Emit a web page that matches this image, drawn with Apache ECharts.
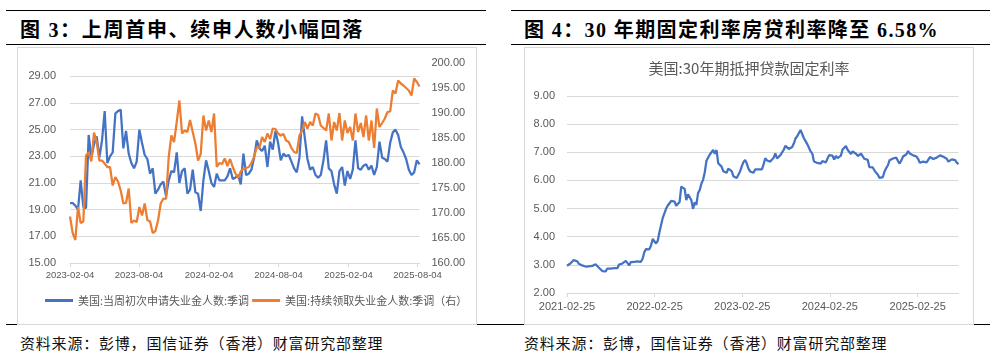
<!DOCTYPE html>
<html><head><meta charset="utf-8">
<script src="https://cdn.jsdelivr.net/npm/echarts@6/dist/echarts.min.js"></script>
<style>
html,body{margin:0;padding:0;background:#fff;width:996px;height:356px;overflow:hidden;position:relative;}
.rule{position:absolute;height:0;border-top:1.4px solid #000;}
.ttl{position:absolute;font-family:"Liberation Serif","Noto Sans CJK SC",serif;font-weight:bold;font-size:20px;letter-spacing:1.7px;color:#000;white-space:nowrap;line-height:20px;}
.src{position:absolute;font-family:"Noto Sans CJK SC",sans-serif;font-size:15px;letter-spacing:0.8px;color:#111;white-space:nowrap;line-height:16px;}
.box{position:absolute;border:1px solid #d9d9d9;box-sizing:border-box;background:#fff;}
.chart{position:absolute;}
</style></head>
<body>
<div class="rule" style="left:6px;top:10px;width:480px;"></div>
<div class="ttl" style="left:20px;top:20px;">图 3：上周首申、续申人数小幅回落</div>
<div class="rule" style="left:6px;top:44px;width:480px;"></div>
<div class="rule" style="left:6px;top:324px;width:492px;"></div>
<div class="box" style="left:17px;top:47px;width:460px;height:278px;"></div>
<div id="c1" class="chart" style="left:17px;top:47px;width:460px;height:278px;"></div>
<div class="src" style="left:20px;top:335px;">资料来源：彭博，国信证券（香港）财富研究部整理</div>

<div class="rule" style="left:511px;top:10px;width:479px;"></div>
<div class="ttl" style="left:524px;top:20px;letter-spacing:1.4px;">图 4：30 年期固定利率房贷利率降至 6.58%</div>
<div class="rule" style="left:511px;top:44px;width:479px;"></div>
<div class="rule" style="left:498px;top:324px;width:492px;"></div>
<div class="box" style="left:524px;top:47px;width:450px;height:278px;"></div>
<div id="c2" class="chart" style="left:524px;top:47px;width:450px;height:278px;"></div>
<div class="src" style="left:524px;top:335px;">资料来源：彭博，国信证券（香港）财富研究部整理</div>

<script>
// ---------- Chart 3 data (weekly, starting 2023-02-04), unit: 10k persons ----------
const claimsStart = '2023-02-04';
const claimsEnd = '2025-08-09';
const initialClaims = [
19.5,19.5,19.3,19.0,21.2,19.2,19.1,24.6,22.9,23.9,
24.5,22.9,24.2,26.4,22.5,23.0,23.3,26.2,26.4,26.5,
23.6,24.9,23.2,22.5,22.1,22.6,25.0,24.0,23.1,22.8,
21.7,22.1,20.2,20.5,20.9,21.1,20.0,21.2,21.9,21.8,
23.3,21.0,21.9,22.1,20.2,20.5,22.0,20.3,20.2,18.9,
21.2,22.7,21.9,21.0,20.7,21.7,21.2,21.2,21.2,21.5,
22.1,21.3,21.4,21.6,20.9,23.2,21.6,21.7,22.0,22.9,
24.2,23.6,23.4,23.8,22.2,24.1,23.5,24.9,24.0,22.7,
23.2,23.0,23.1,22.6,22.1,21.8,22.9,26.0,24.4,22.8,
22.0,22.2,21.6,21.4,21.6,22.7,24.2,22.1,21.9,20.9,
20.2,21.9,22.2,20.8,21.9,21.3,22.0,24.2,22.1,22.0,
22.3,22.4,22.0,22.3,21.6,22.2,24.1,22.9,22.8,22.6,
24.0,24.8,25.0,24.6,23.7,23.3,22.8,22.0,21.6,21.8,
22.7,22.4];
const continuingClaims = [
169.3,166.0,164.6,171.2,168.0,168.3,181.5,182.1,180.3,186.1,
184.2,180.5,180.5,179.9,179.2,179.2,175.5,177.2,176.3,174.5,
171.9,172.0,174.9,168.0,168.5,168.2,171.2,169.5,171.9,168.6,
168.3,166.0,166.4,168.5,171.9,172.9,172.8,181.2,185.5,184.2,
188.2,192.5,185.9,186.5,186.2,188.6,186.2,183.9,180.5,181.8,
189.5,186.5,188.5,186.2,189.9,179.2,180.0,179.8,180.9,179.4,
180.8,179.2,177.9,177.0,178.3,178.9,179.0,179.2,180.0,181.2,
183.2,183.0,185.2,184.2,185.9,184.8,186.9,186.8,185.9,185.5,
185.8,184.5,184.2,183.0,182.2,182.0,185.5,186.5,188.2,186.9,
188.2,187.5,189.9,189.6,187.5,187.0,186.5,189.9,184.5,188.2,
186.5,190.0,184.5,188.5,186.0,187.2,184.5,189.9,186.2,188.0,
185.2,189.5,184.5,188.5,183.0,190.9,187.2,188.0,188.9,190.2,
190.3,194.5,193.9,196.5,195.9,195.5,195.0,194.5,193.5,196.9,
196.2,195.3];
const claimsXTicks = ['2023-02-04','2023-08-04','2024-02-04','2024-08-04','2025-02-04','2025-08-04'];
const claimsLeftTicks = [15,17,19,21,23,25,27,29];
const claimsNames = ['美国:当周初次申请失业金人数:季调','美国:持续领取失业金人数:季调（右）'];

// ---------- Chart 4 data (weekly, starting 2021-02-25), unit: % ----------
const mortgageStart = '2021-02-25';
const mortgageEnd = '2025-08-14';
const mortgage30 = [
2.97,3.02,3.05,3.09,3.17,3.18,3.13,3.04,2.97,2.98,2.96,2.94,3.00,2.95,2.99,2.96,2.93,3.02,2.98,2.90,
2.88,2.78,2.80,2.77,2.87,2.86,2.87,2.87,2.88,2.86,2.88,3.01,2.99,3.05,3.09,3.14,3.09,2.98,3.10,3.10,
3.11,3.10,3.12,3.05,3.11,
3.22,3.45,3.56,3.55,3.55,3.69,3.92,3.89,3.76,3.85,4.16,4.42,4.67,4.72,5.00,5.11,5.10,5.27,5.30,5.25,
5.10,5.09,5.23,5.78,5.81,5.70,5.30,5.51,5.54,5.30,4.99,5.22,5.13,5.55,5.66,5.89,6.02,6.29,6.70,6.66,
6.92,6.94,7.08,6.95,7.08,6.61,6.58,6.49,6.33,6.31,6.27,6.42,
6.48,6.33,6.15,6.13,6.09,6.12,6.32,6.50,6.65,6.73,6.60,6.42,6.32,6.28,6.27,6.39,6.43,6.39,6.35,6.39,
6.57,6.79,6.71,6.69,6.67,6.71,6.81,6.96,6.78,6.81,6.90,6.96,7.09,7.23,7.18,7.12,7.18,7.19,7.31,7.49,
7.57,7.63,7.79,7.76,7.50,7.44,7.29,7.22,7.03,6.95,6.67,6.61,
6.62,6.66,6.60,6.69,6.63,6.64,6.77,6.90,6.94,6.88,6.74,6.87,6.79,6.82,6.88,7.10,7.17,7.22,7.09,7.02,
6.94,7.03,6.99,6.95,6.87,6.86,6.95,6.89,6.77,6.78,6.73,6.47,6.49,6.46,6.35,6.35,6.20,6.09,6.08,6.12,
6.32,6.44,6.54,6.72,6.79,6.78,6.84,6.81,6.69,6.60,6.72,6.85,
6.91,6.93,7.04,6.96,6.95,6.89,6.87,6.85,6.76,6.63,6.65,6.67,6.65,6.64,6.62,6.83,6.81,6.76,6.76,6.81,
6.86,6.89,6.85,6.84,6.81,6.77,6.67,6.72,6.75,6.74,6.72,6.63,6.58];
const mortgageXTicks = ['2021-02-25','2022-02-25','2023-02-25','2024-02-25','2025-02-25'];
const mortgageTitle = '美国:30年期抵押贷款固定利率';

// ---------- helpers ----------
const DAY = 86400000;
function toUTC(s){const p=s.split('-').map(Number);return Date.UTC(p[0],p[1]-1,p[2]);}
function weekly(start,n){const t0=toUTC(start);const a=[];for(let i=0;i<n;i++)a.push(t0+i*7*DAY);return a;}
function pad(n){return (n<10?'0':'')+n;}
function fmtDate(ts){const d=new Date(ts);return d.getUTCFullYear()+'-'+pad(d.getUTCMonth()+1)+'-'+pad(d.getUTCDate());}
const LABEL = '#595959', GRID = '#d9d9d9';
const numFont = 'Liberation Sans, Arial, sans-serif';
const cjkFont = 'Noto Sans CJK SC, sans-serif';

// ---------- Chart 3 ----------
const cDates = weekly(claimsStart, initialClaims.length);
const c1 = echarts.init(document.getElementById('c1'), null, {renderer:'canvas'});
c1.setOption({
  animation:false,
  grid:{left:53,right:57.5,top:16,bottom:62},
  legend:{
    orient:'horizontal', left:28, top:248, width:440, padding:0,
    icon:'rect', itemWidth:28, itemHeight:3, itemGap:3,
    textStyle:{color:LABEL,fontSize:11,fontFamily:cjkFont},
    data:claimsNames
  },
  xAxis:{
    type:'value', min:toUTC(claimsStart), max:toUTC(claimsEnd),
    axisLine:{lineStyle:{color:GRID,width:1}},
    axisTick:{show:true,length:4,lineStyle:{color:GRID},customValues:claimsXTicks.map(toUTC)},
    axisLabel:{customValues:claimsXTicks.map(toUTC),formatter:v=>fmtDate(v),color:LABEL,fontSize:9.5,fontFamily:numFont,margin:7,hideOverlap:false},
    splitLine:{show:false}
  },
  yAxis:[{
    type:'value', min:15, max:30, position:'left',
    axisLine:{show:false},
    axisTick:{show:false,customValues:claimsLeftTicks},
    axisLabel:{customValues:claimsLeftTicks,formatter:v=>v.toFixed(2),color:LABEL,fontSize:11,fontFamily:numFont,margin:14},
    splitLine:{show:true,lineStyle:{color:GRID,width:1}}
  },{
    type:'value', min:160, max:200, interval:5, position:'right',
    axisLine:{show:false}, axisTick:{show:false},
    axisLabel:{formatter:v=>v.toFixed(2),color:LABEL,fontSize:11,fontFamily:numFont,margin:12},
    splitLine:{show:false}
  }],
  series:[{
    name:claimsNames[0], type:'line', yAxisIndex:0, symbol:'none',
    lineStyle:{color:'#4472C4',width:2.25}, itemStyle:{color:'#4472C4'},
    data:cDates.map((t,i)=>[t,initialClaims[i]])
  },{
    name:claimsNames[1], type:'line', yAxisIndex:1, symbol:'none',
    lineStyle:{color:'#ED7D31',width:2.25}, itemStyle:{color:'#ED7D31'},
    data:cDates.map((t,i)=>[t,continuingClaims[i]])
  }]
});

// ---------- Chart 4 ----------
const mDates = weekly(mortgageStart, mortgage30.length);
const c2 = echarts.init(document.getElementById('c2'), null, {renderer:'canvas'});
c2.setOption({
  animation:false,
  title:{text:mortgageTitle,left:'center',top:9,textStyle:{color:LABEL,fontSize:15,fontWeight:'normal',fontFamily:cjkFont}},
  grid:{left:43,right:15.5,top:49,bottom:32},
  xAxis:{
    type:'value', min:toUTC(mortgageStart), max:toUTC(mortgageEnd),
    axisLine:{lineStyle:{color:GRID,width:1}},
    axisTick:{show:true,length:4,lineStyle:{color:GRID},customValues:mortgageXTicks.map(toUTC)},
    axisLabel:{customValues:mortgageXTicks.map(toUTC),formatter:v=>fmtDate(v),color:LABEL,fontSize:11,fontFamily:numFont,margin:8,hideOverlap:false},
    splitLine:{show:false}
  },
  yAxis:{
    type:'value', min:2, max:9, interval:1,
    axisLine:{show:false}, axisTick:{show:false},
    axisLabel:{formatter:v=>v.toFixed(2),color:LABEL,fontSize:11,fontFamily:numFont,margin:12},
    splitLine:{show:true,lineStyle:{color:GRID,width:1}}
  },
  series:[{
    type:'line', symbol:'none',
    lineStyle:{color:'#4472C4',width:2.25}, itemStyle:{color:'#4472C4'},
    data:mDates.map((t,i)=>[t,mortgage30[i]])
  }]
});
</script>
</body></html>
